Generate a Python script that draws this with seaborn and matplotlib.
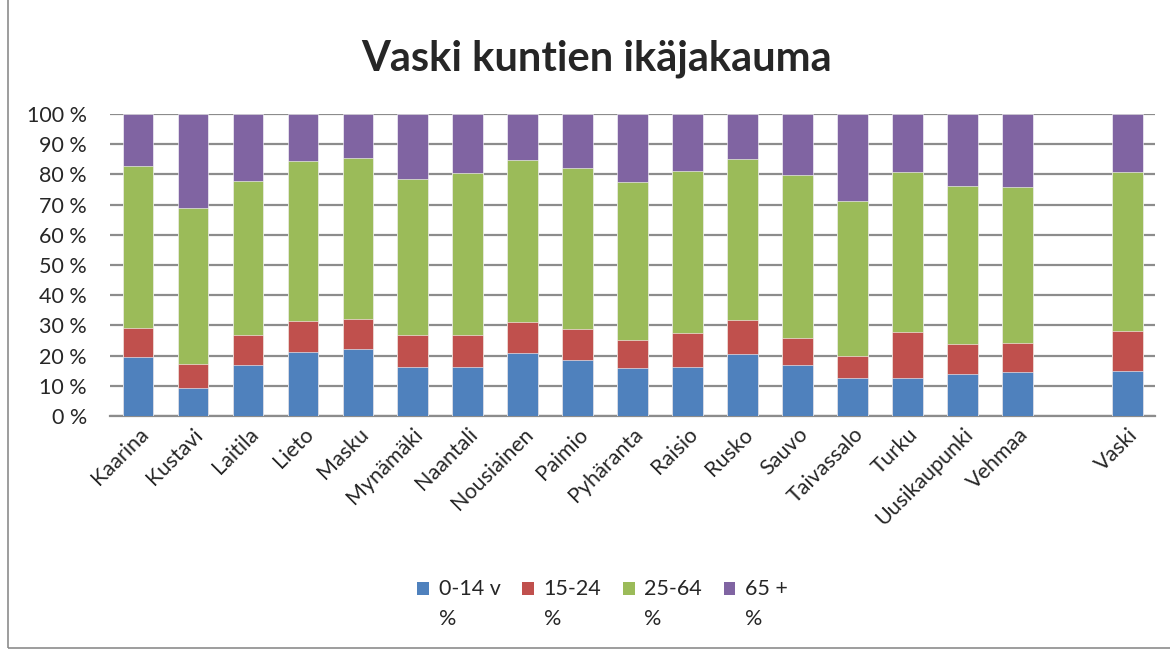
import numpy as np
import pandas as pd
import matplotlib
matplotlib.use("Agg")
import matplotlib.pyplot as plt
import seaborn as sns
from matplotlib.patches import Patch, Rectangle
from matplotlib.legend_handler import HandlerPatch

# Data (percent shares per municipality)
kunnat = ["Kaarina", "Kustavi", "Laitila", "Lieto", "Masku", "Mynämäki", "Naantali",
          "Nousiainen", "Paimio", "Pyhäranta", "Raisio", "Rusko", "Sauvo", "Taivassalo",
          "Turku", "Uusikaupunki", "Vehmaa", "Vaski"]
ika_0_14 = [19.4, 9.2, 16.9, 21.2, 22.2, 16.2, 16.2, 20.9, 18.7, 15.8, 16.2, 20.6, 16.9,
            12.6, 12.5, 13.8, 14.5, 15.0]
ika_15_24 = [9.7, 7.9, 10.0, 10.1, 9.8, 10.6, 10.5, 10.1, 10.2, 9.5, 11.3, 11.1, 8.8,
             7.4, 15.4, 9.9, 9.8, 13.0]
ika_25_64 = [53.7, 51.9, 51.0, 53.2, 53.5, 51.7, 53.8, 53.8, 53.2, 52.0, 53.7, 53.5, 54.2,
             51.1, 53.0, 52.6, 51.4, 52.9]
ika_65 = [100 - a - b - c for a, b, c in zip(ika_0_14, ika_15_24, ika_25_64)]

series_labels = ["0-14 v\n%", "15-24\n%", "25-64\n%", "65 +\n%"]
colors = ["#4F81BD", "#C0504D", "#9BBB59", "#8064A2"]

# empty slot between Vehmaa and Vaski
order = kunnat[:-1] + [" "] + kunnat[-1:]

df = pd.DataFrame({"kunta": kunnat, "s0": ika_0_14, "s1": ika_15_24,
                   "s2": ika_25_64, "s3": ika_65})
cum = df[["s0", "s1", "s2", "s3"]].cumsum(axis=1)

sns.set_style("white")
plt.rcParams["font.family"] = ["Lato", "DejaVu Sans"]
FS = 15.5

fig = plt.figure(figsize=(11.7, 6.51), dpi=100)
ax = fig.add_axes([0.0944, 0.361, 0.893, 0.464])

# draw cumulative layers from top to bottom so they stack
for i in range(3, -1, -1):
    sns.barplot(x=df["kunta"], y=cum.iloc[:, i], order=order, color=colors[i],
                saturation=1, width=0.56, ax=ax, edgecolor="white", linewidth=0.4,
                zorder=3)

ax.set_ylim(0, 100)
ax.set_xlim(-0.5, len(order) - 0.5)
ax.set_yticks(range(0, 101, 10))
ax.set_yticklabels([f"{v} %" for v in range(0, 101, 10)], fontsize=FS)
ax.yaxis.grid(True, color="#8c8c8c", linewidth=1.6, zorder=0)
ax.set_axisbelow(True)
ax.set_xlabel("")
ax.set_ylabel("")
ax.tick_params(axis="y", length=0, pad=17)
ax.tick_params(axis="x", length=0, pad=6)
plt.setp(ax.get_xticklabels(), rotation=45, ha="right", rotation_mode="anchor",
         fontsize=FS)
for side in ["left", "right", "top"]:
    ax.spines[side].set_visible(False)
ax.spines["bottom"].set_color("#8c8c8c")
ax.spines["bottom"].set_linewidth(1.6)

fig.text(0.51, 0.91, "Vaski kuntien ikäjakauma", ha="center", va="center",
         fontsize=30, fontweight="bold")


# legend squares sit next to the first line of the two-line labels
def top_square(legend, orig_handle, xdescent, ydescent, width, height, fontsize):
    return Rectangle((-xdescent, -ydescent + 0.75 * fontsize), width, height)


handles = [Patch(facecolor=c, edgecolor="none") for c in colors]
leg = fig.legend(handles, series_labels, loc="center", bbox_to_anchor=(0.515, 0.072),
                 ncol=4, frameon=False, fontsize=FS, handlelength=0.55,
                 handleheight=0.55, handletextpad=0.45, columnspacing=1.0,
                 handler_map={Patch: HandlerPatch(patch_func=top_square)})
for t in leg.get_texts():
    t.set_linespacing(1.6)

fig.patches.append(Rectangle((0.007, 0.004), 1.1, 1.2, transform=fig.transFigure,
                             fill=False, edgecolor="#8c8c8c", linewidth=1.2))

fig.savefig("out.png", dpi=100)
